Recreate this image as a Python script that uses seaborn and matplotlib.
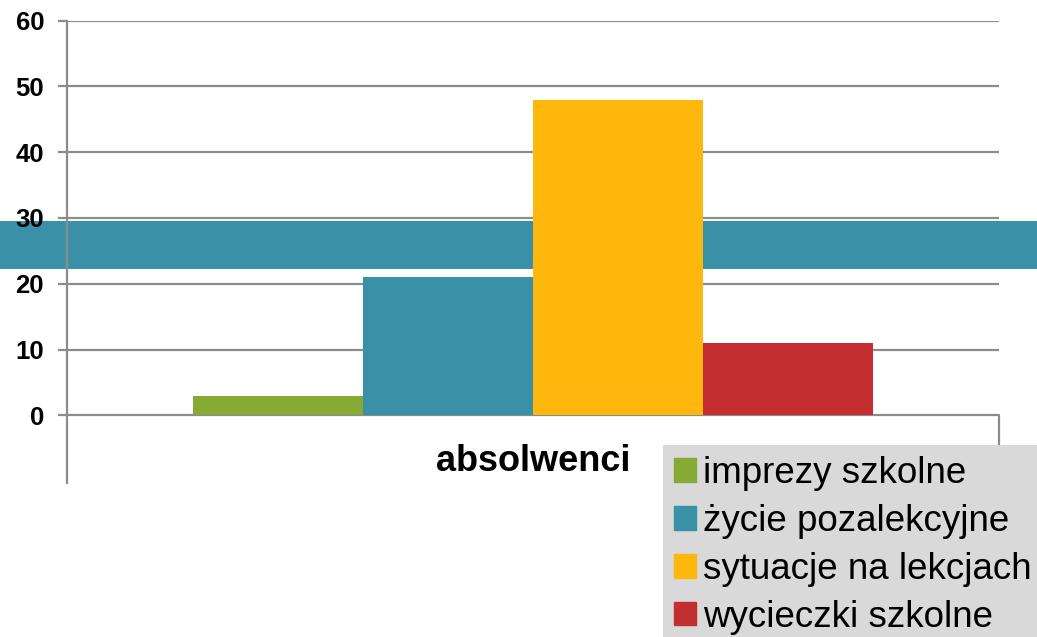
import matplotlib
matplotlib.use("Agg")
import matplotlib.pyplot as plt
import seaborn as sns
import pandas as pd

categories = ["absolwenci"]
series = ["imprezy szkolne", "życie pozalekcyjne", "sytuacje na lekcjach", "wycieczki szkolne"]
values = [3, 21, 48, 11]
colors = ["#86AA33", "#3A91A7", "#FDB70D", "#C32E30"]
yticks = [0, 10, 20, 30, 40, 50, 60]
band = (22.3, 29.55)  # teal horizontal strip across the chart

sns.set_theme(style="white")
plt.rcParams['font.family'] = ['Liberation Sans', 'DejaVu Sans']
plt.rcParams['text.color'] = 'black'

df = pd.DataFrame({"kategoria": categories * len(series), "seria": series, "wartość": values})

fig = plt.figure(figsize=(10.37, 6.37), dpi=100)
ax = fig.add_axes([67/1037, (637-483)/637, (999-67)/1037, (483-20.7)/637])

sns.barplot(data=df, x="kategoria", y="wartość", hue="seria", hue_order=series,
            palette=colors, width=0.729, gap=0, dodge=True, saturation=1,
            ax=ax, legend=False, zorder=3, linewidth=0)

ax.set_axisbelow(False)
ax.set_xlim(-0.5, 0.5)
ax.set_ylim(-10.3, 60)
ax.set_yticks(yticks)
ax.set_yticklabels([str(t) for t in yticks], fontsize=18.5, fontweight="bold", color="black")
for t in yticks:
    ax.axhline(t, color="#8C8C8C", lw=1.6, zorder=1)

ax.axhspan(band[0], band[1], xmin=-0.1, xmax=1.1, color="#3A91A7", clip_on=False, zorder=0.3, lw=0)

for s in ["top", "right", "bottom"]:
    ax.spines[s].set_visible(False)
ax.spines["left"].set_color("#8C8C8C")
ax.spines["left"].set_linewidth(1.6)
ax.spines["left"].set_zorder(2.5)

ax.tick_params(axis="y", length=6.5, width=1.6, color="#8C8C8C", pad=10, left=True)
ax.set_xticks([])
ax.plot([0.5, 0.5], [0, -4.6], color="#8C8C8C", lw=1.6, clip_on=False, zorder=2)
ax.set_xlabel("")
ax.set_ylabel("")

ax.text(0, -7.0, categories[0], ha="center", va="center", fontsize=26, fontweight="bold", color="black")

handles = [plt.Rectangle((0, 0), 1, 1, color=c) for c in colors]
leg = fig.legend(handles, series, loc="upper left", bbox_to_anchor=(663/1037, 1-445/637),
                 fontsize=26.5, frameon=True, fancybox=False, facecolor="#D9D9D9",
                 edgecolor="none", framealpha=1, handlelength=0.6, handleheight=0.6,
                 handletextpad=0.2, labelspacing=0.35, borderpad=0.3, borderaxespad=0)
for t in leg.get_texts():
    t.set_color("black")

fig.savefig("out.png", dpi=100)
